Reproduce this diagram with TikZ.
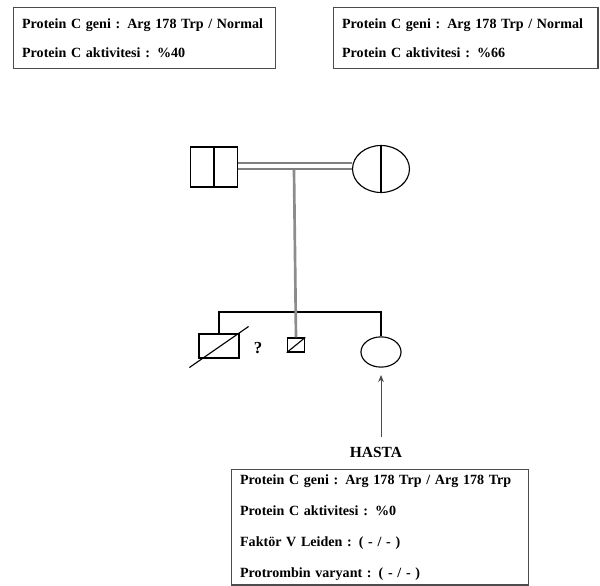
\documentclass[tikz,border=0pt]{standalone}
\usepackage{fontspec}
\setmainfont{Liberation Serif}
\usetikzlibrary{shapes.geometric,arrows.meta,positioning,calc}
\tikzset{
  IB/.style={rectangle,draw=black!70,line width=1pt,anchor=north west,
             align=left,inner xsep=6pt,inner ysep=0pt},
  tB/.style={IB,font=\fontsize{10}{20.6}\selectfont\bfseries},
  bB/.style={IB,font=\fontsize{10}{22}\selectfont\bfseries},
  PM/.style={rectangle,draw,line width=0.8pt,inner sep=0pt},
  PF/.style={ellipse,draw,line width=0.8pt,inner sep=0pt},
  gl/.style={draw=black!45,line width=1.9pt},
  sl/.style={line width=0.8pt},
  arr/.style={-{Stealth[length=5pt,width=4pt]},line width=0.6pt,black!70}
}
\begin{document}
\begin{tikzpicture}[x=0.025cm,y=-0.025cm]
  \useasboundingbox (0,0) rectangle (600,586);
  % info boxes
  \node[tB,text width=174pt,minimum height=43.4pt] (pbox) at (13,7)
       {Protein C geni : Arg 178 Trp / Normal\\Protein C aktivitesi : \%40};
  \node[tB,text width=176pt,minimum height=43.4pt] (mbox) at (333,7)
       {Protein C geni : Arg 178 Trp / Normal\\Protein C aktivitesi : \%66};

  % parents
  \node[PM,minimum width=34pt,minimum height=28.5pt] (fa) at (214,167) {};
  \draw[sl] (fa.north) -- (fa.south);
  \node[PF,minimum width=40.5pt,minimum height=33.4pt] (mo) at (381,169) {};
  \draw[sl] (mo.north) -- (mo.south);
  \draw[black!50,line width=1.2pt,double=white,double distance=2.8pt] (fa.east |- 0,166) -- (mo.west |- 0,166);

  % children
  \coordinate (mid) at (294,170);
  \coordinate (sb) at (294,312);
  \node[PM,minimum width=28.5pt,minimum height=17pt] (c1) at (219,346) {};
  \node[PM,minimum width=12.5pt,minimum height=10pt] (ms) at (296,345) {};
  \node[PF,minimum width=28.5pt,minimum height=21.5pt] (c3) at (381,352) {};
  \draw[sl] (c1.north) |- (sb) -| (c3.north);
  \draw[gl] (mid) -- (ms.north);
  \draw[sl] ($(c1.south west)+(-9,9)$) -- ($(c1.north east)+(9,-7)$);
  \draw[sl] (ms.south west) -- (ms.north east);
  \node[font=\fontsize{12}{12}\selectfont\bfseries] (q) at (258,348) {?};

  % proband
  \node[font=\fontsize{11}{11}\selectfont\bfseries] (hasta) at (376,452) {HASTA};
  \draw[arr] (c3.south |- 0,437) -- (c3.south |- 0,375);
  \node[bB,text width=199pt,minimum height=82pt] (hbox) at (231,469)
       {Protein C geni : Arg 178 Trp / Arg 178 Trp\\Protein C aktivitesi : \%0\\
        Faktör V Leiden : ( - / - )\\Protrombin varyant : ( - / - )};
\end{tikzpicture}
\end{document}
